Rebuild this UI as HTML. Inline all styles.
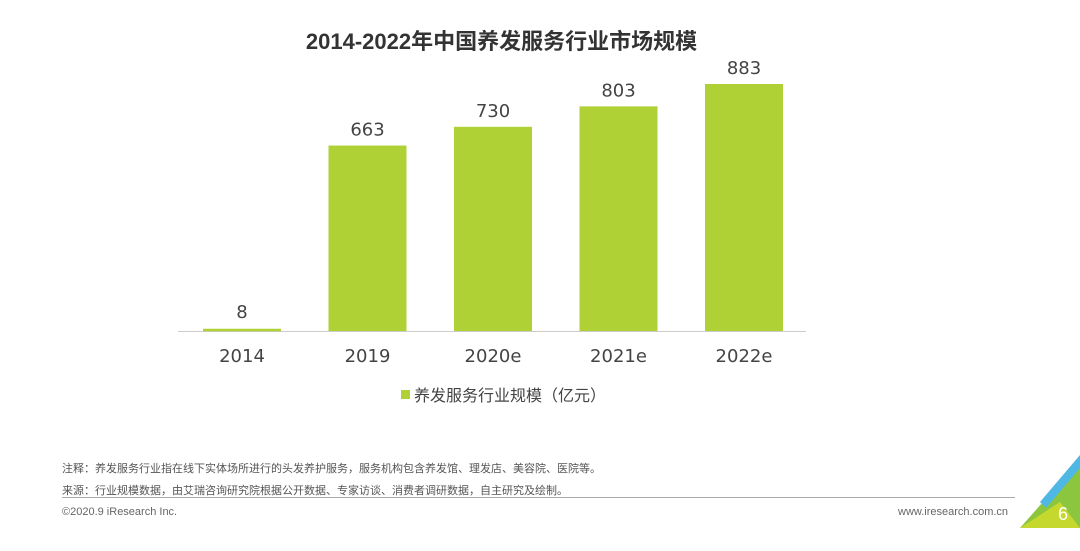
<!DOCTYPE html>
<html><head><meta charset="utf-8"><style>
body{margin:0;width:1080px;height:551px;background:#fff;overflow:hidden;font-family:"Liberation Sans","Noto Sans CJK SC",sans-serif;position:relative}
.t{position:absolute;white-space:nowrap}
</style></head><body>
<div class="t" style="left:0;width:1003px;text-align:center;top:24px;font-size:22px;font-weight:bold;color:#333">2014-2022年中国养发服务行业市场规模</div>
<svg id="c" width="1080" height="420" style="position:absolute;left:0;top:0"></svg>
<div class="t" style="left:401px;top:382px;font-size:16px;color:#444"><span style="display:inline-block;width:9px;height:9px;background:#b0d136;margin-right:4px;vertical-align:2px"></span>养发服务行业规模（亿元）</div>
<div class="t" style="left:62px;top:460px;font-size:11px;color:#555">注释：养发服务行业指在线下实体场所进行的头发养护服务，服务机构包含养发馆、理发店、美容院、医院等。</div>
<div class="t" style="left:62px;top:482px;font-size:11px;color:#555">来源：行业规模数据，由艾瑞咨询研究院根据公开数据、专家访谈、消费者调研数据，自主研究及绘制。</div>
<div style="position:absolute;left:62px;top:497px;width:953px;height:1px;background:#aaa"></div>
<div class="t" style="left:62px;top:506px;font-size:11px;color:#666">©2020.9 iResearch Inc.</div>
<div class="t" style="left:898px;top:506px;font-size:11px;color:#666">www.iresearch.com.cn</div>
<svg width="80" height="111" style="position:absolute;left:1000px;top:440px">
<polygon points="20,88 80,20 80,88" fill="#8cc63f"/>
<polygon points="20,88 60,62 80,88" fill="#c5d82e"/>
<polygon points="40,62 80,15 80,28 46,68" fill="#4fb7e3"/>
<text x="58" y="80" font-size="18" fill="#fff" font-family="Liberation Sans,sans-serif">6</text>
</svg>
<script>
const categories=["2014","2019","2020e","2021e","2022e"];
const values=[8,663,730,803,883];
const valueLabels=["8","663","730","803","883"];
const svg=document.getElementById('c');
const NS='http://www.w3.org/2000/svg';
const x0=242,step=125.5,base=331,scale=247/883,bw=78;
const xs=i=>x0+i*step, ys=v=>base-v*scale;
const ax=document.createElementNS(NS,'line');
ax.setAttribute('x1',178);ax.setAttribute('x2',806);ax.setAttribute('y1',base+0.5);ax.setAttribute('y2',base+0.5);ax.setAttribute('stroke','#ccc');


svg.appendChild(ax);
values.forEach((v,i)=>{
 const r=document.createElementNS(NS,'rect');
 r.setAttribute('x',xs(i)-bw/2);r.setAttribute('width',bw);
 const y=ys(v);r.setAttribute('y',y);r.setAttribute('height',Math.max(base-y,2.5));r.setAttribute('fill','#b0d136');
 
 
 svg.appendChild(r);
 const t=document.createElementNS(NS,'text');
 t.setAttribute('x',xs(i));t.setAttribute('y',Math.min(y,base-3)-10);t.setAttribute('text-anchor','middle');
 t.setAttribute('font-size','18');t.setAttribute('fill','#444');t.setAttribute('font-family','DejaVu Sans,sans-serif');
 t.textContent=valueLabels[i];
 
 
 svg.appendChild(t);
 const c=document.createElementNS(NS,'text');
 c.setAttribute('x',xs(i));c.setAttribute('y',362);c.setAttribute('text-anchor','middle');
 c.setAttribute('font-size','18');c.setAttribute('fill','#444');c.setAttribute('font-family','DejaVu Sans,sans-serif');
 c.textContent=categories[i];
 
 
 svg.appendChild(c);
});
</script>
</body></html>
